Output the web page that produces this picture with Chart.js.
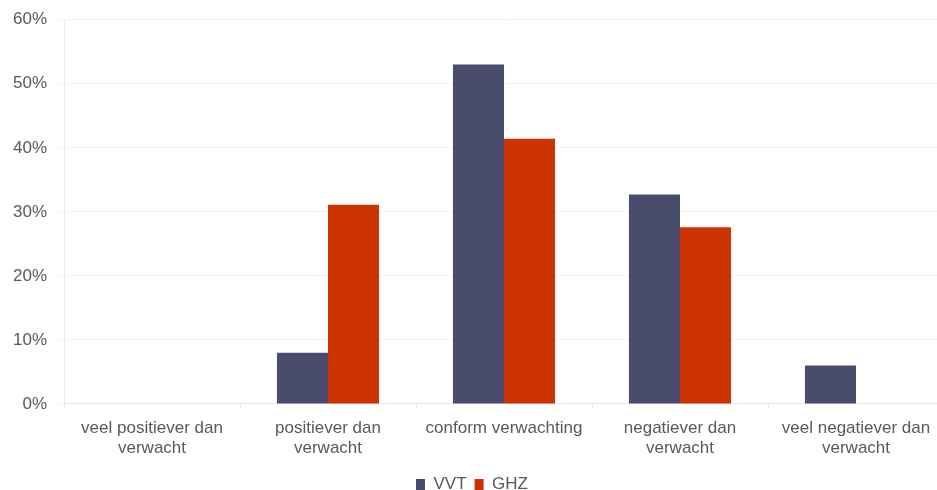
<!DOCTYPE html>
<html>
<head>
<meta charset="utf-8">
<script src="https://cdn.jsdelivr.net/npm/chart.js@4"></script>
<style>
    html, body { margin: 0; padding: 0; background: #fff; overflow: hidden; }
    #wrap { position: relative; width: 972px; height: 503px; }
</style>
</head>
<body>
<div id="wrap"><canvas id="barChart"></canvas></div>
<script>
// Categories (multi-line labels) and series values in percent
const categories = [
    ['veel positiever dan', 'verwacht'],
    ['positiever dan', 'verwacht'],
    ['conform verwachting'],
    ['negatiever dan', 'verwacht'],
    ['veel negatiever dan', 'verwacht']
];
const vvtValues = [0, 8, 53, 32.7, 6];
const ghzValues = [0, 31.1, 41.4, 27.6, 0];
const yTicks = [0, 10, 20, 30, 40, 50, 60];

const labelFont = { family: "'Liberation Sans', Arial, sans-serif", size: 17, lineHeight: 1.15 };

const ctx = document.getElementById('barChart').getContext('2d');

new Chart(ctx, {
    type: 'bar',
    data: {
        labels: categories,
        datasets: [
            {
                label: 'VVT',
                data: vvtValues,
                backgroundColor: '#4a4c6e',
                categoryPercentage: 0.58,
                barPercentage: 1.0
            },
            {
                label: 'GHZ',
                data: ghzValues,
                backgroundColor: '#cc3300',
                categoryPercentage: 0.58,
                barPercentage: 1.0
            }
        ]
    },
    options: {
        responsive: true,
        maintainAspectRatio: false,
        animation: false,
        layout: {
            padding: { top: 10, right: 28, left: 0, bottom: 0 }
        },
        plugins: {
            legend: {
                position: 'bottom',
                labels: {
                    boxWidth: 9,
                    boxHeight: 11,
                    padding: 8,
                    color: '#595959',
                    font: labelFont
                }
            },
            tooltip: { enabled: false }
        },
        scales: {
            y: {
                min: 0,
                max: 60,
                afterBuildTicks: (axis) => {
                    axis.ticks = yTicks.map(v => ({ value: v }));
                },
                afterFit: (axis) => {
                    axis.width = 64;
                },
                ticks: {
                    color: '#595959',
                    font: labelFont,
                    padding: 10,
                    callback: (v) => v + '%'
                },
                grid: {
                    color: '#f2f2f2',
                    tickLength: 7
                },
                border: { color: '#ececec' }
            },
            x: {
                ticks: {
                    color: '#595959',
                    font: labelFont,
                    maxRotation: 0,
                    autoSkip: false,
                    padding: 10
                },
                grid: {
                    drawOnChartArea: false,
                    offset: true,
                    color: '#e6e6e6',
                    tickLength: 5
                },
                border: { color: '#e6e6e6' }
            }
        }
    }
});
</script>
</body>
</html>
